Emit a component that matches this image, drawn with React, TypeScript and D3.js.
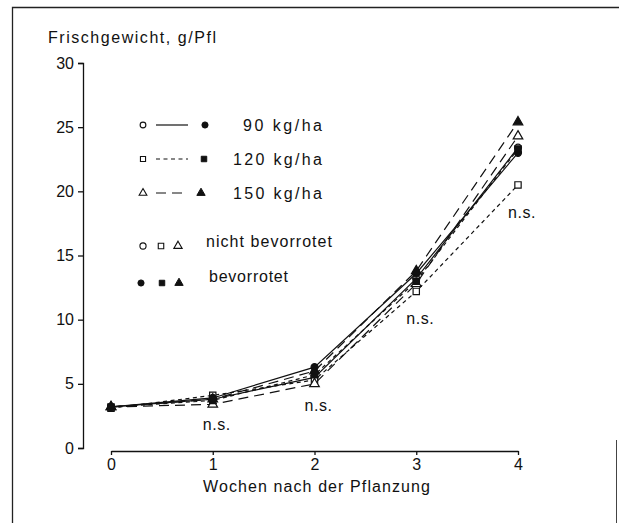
import React, { useEffect, useRef } from "react";
import * as d3 from "d3";

const weeks = [0, 1, 2, 3, 4];
const yTicks = [0, 5, 10, 15, 20, 25, 30];
const doses = ["90 kg/ha", "120 kg/ha", "150 kg/ha"];
const nb90 = [3.2, 3.8, 5.5, 13.2, 23.4];
const b90 = [3.2, 3.9, 6.3, 13.6, 23.0];
const nb120 = [3.1, 4.1, 5.3, 12.2, 20.5];
const b120 = [3.2, 3.7, 5.7, 13.0, 23.3];
const nb150 = [3.2, 3.4, 5.0, 12.8, 24.3];
const b150 = [3.2, 3.8, 6.0, 13.8, 25.4];
const nsWeeks = [1, 2, 3, 4];
const nsValues = [1.4, 2.9, 9.7, 17.9];

const W = 619;
const H = 523;
const FONT = "'Liberation Sans', Arial, sans-serif";

const x = d3.scaleLinear().domain([0, 4]).range([111, 518]);
const y = d3.scaleLinear().domain([0, 30]).range([448, 63]);

const dashes = ["none", "4 3.5", "10 6"];
const shapes = [d3.symbolCircle, d3.symbolSquare, d3.symbolTriangle];
const sizes = [38, 40, 40];

const series = [
  { vals: nb90, dose: 0, filled: false },
  { vals: nb120, dose: 1, filled: false },
  { vals: nb150, dose: 2, filled: false },
  { vals: b90, dose: 0, filled: true },
  { vals: b120, dose: 1, filled: true },
  { vals: b150, dose: 2, filled: true },
];

const line = d3
  .line<number>()
  .x((_, i) => x(weeks[i]))
  .y((d) => y(d));

function sym(k: number, size: number) {
  return d3.symbol().type(shapes[k]).size(size)() as string;
}

export default function App() {
  const yRef = useRef<SVGGElement>(null);
  const xRef = useRef<SVGGElement>(null);

  useEffect(() => {
    const ya = d3.axisLeft(y).tickValues(yTicks).tickSize(5).tickPadding(4).tickSizeOuter(5);
    const gy = d3.select(yRef.current!);
    gy.call(ya as any);
    gy.selectAll("text").attr("font-family", FONT).attr("font-size", 16).attr("fill", "#111");
    gy.selectAll("path,line").attr("stroke", "#111").attr("stroke-width", 1.3);
    gy.attr("font-size", null).attr("font-family", null);

    const xa = d3.axisBottom(x).tickValues(weeks).tickFormat(d3.format("d")).tickSize(4).tickPadding(4).tickSizeOuter(0);
    const gx = d3.select(xRef.current!);
    gx.call(xa as any);
    gx.selectAll("text").attr("font-family", FONT).attr("font-size", 16).attr("fill", "#111");
    gx.selectAll("path,line").attr("stroke", "#111").attr("stroke-width", 1.3);
    gx.attr("font-size", null).attr("font-family", null);
  }, []);

  const legRows = [125, 159, 193];
  const legTextX = [243, 233, 233];

  return (
    <svg
      width={W}
      height={H}
      style={{ position: "absolute", left: 0, top: 0, background: "#fff" }}
      fontFamily={FONT}
    >
      <rect x={0} y={0} width={W} height={H} fill="#fff" />
      <path d={`M12.5,${H} V7.5 H${W}`} fill="none" stroke="#222" strokeWidth={1.3} />
      <path d={`M616.5,440 V${H}`} fill="none" stroke="#444" strokeWidth={1} />

      <text x={48} y={43} fontSize={16} fill="#111" textLength={168} lengthAdjust="spacing">
        Frischgewicht, g/Pfl
      </text>

      <g ref={yRef} transform={`translate(83,0)`} />
      <g ref={xRef} transform={`translate(0,451)`} />

      <text x={203} y={492} fontSize={16} fill="#111" textLength={227} lengthAdjust="spacing">
        Wochen nach der Pflanzung
      </text>

      {series.map((s, i) => (
        <path
          key={"l" + i}
          d={line(s.vals) as string}
          fill="none"
          stroke="#111"
          strokeWidth={1.2}
          strokeDasharray={dashes[s.dose]}
        />
      ))}
      {series.map((s, i) =>
        s.vals.map((v, j) => (
          <path
            key={"m" + i + "-" + j}
            d={sym(s.dose, sizes[s.dose])}
            transform={`translate(${x(weeks[j])},${y(v)})`}
            fill={s.filled ? "#111" : "#fff"}
            stroke="#111"
            strokeWidth={1.2}
          />
        ))
      )}

      {nsWeeks.map((w, i) => (
        <text
          key={"ns" + i}
          x={x(w) + 4}
          y={y(nsValues[i])}
          fontSize={16}
          fill="#111"
          textAnchor="middle"
          letterSpacing={0.5}
        >
          n.s.
        </text>
      ))}

      {doses.map((d, k) => (
        <g key={"lg" + k}>
          <path d={sym(k, 26)} transform={`translate(143,${legRows[k]})`} fill="#fff" stroke="#111" strokeWidth={1.1} />
          <line x1={156} x2={188} y1={legRows[k]} y2={legRows[k]} stroke="#111" strokeWidth={1.2} strokeDasharray={dashes[k]} />
          <path d={sym(k, 30)} transform={`translate(${k === 0 ? 205 : k === 1 ? 204 : 201},${legRows[k]})`} fill="#111" stroke="#111" strokeWidth={1} />
          <text x={legTextX[k]} y={legRows[k] + 6} fontSize={16} fill="#111" textLength={322 - legTextX[k]} lengthAdjust="spacing">
            {d}
          </text>
        </g>
      ))}

      {[0, 1, 2].map((k) => (
        <path key={"lo" + k} d={sym(k, 30)} transform={`translate(${[143, 161, 178][k]},246)`} fill="#fff" stroke="#111" strokeWidth={1.1} />
      ))}
      {[0, 1, 2].map((k) => (
        <path key={"lf" + k} d={sym(k, 30)} transform={`translate(${[141, 162, 179][k]},283)`} fill="#111" stroke="#111" strokeWidth={1} />
      ))}
      <text x={206} y={247} fontSize={16} fill="#111" textLength={126} lengthAdjust="spacing">
        nicht bevorrotet
      </text>
      <text x={209} y={282} fontSize={16} fill="#111" textLength={79} lengthAdjust="spacing">
        bevorrotet
      </text>
    </svg>
  );
}
